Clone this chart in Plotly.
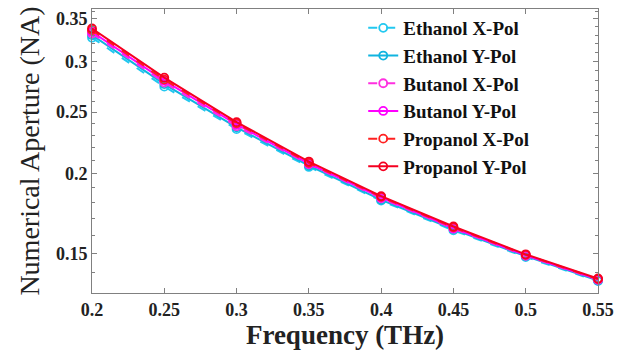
import plotly.graph_objects as go
import math

freq = [0.2, 0.25, 0.3, 0.35, 0.4, 0.45, 0.5, 0.55]
x_ticks = [0.2, 0.25, 0.3, 0.35, 0.4, 0.45, 0.5, 0.55]
x_ticklabels = ["0.2", "0.25", "0.3", "0.35", "0.4", "0.45", "0.5", "0.55"]
y_ticks = [0.15, 0.2, 0.25, 0.3, 0.35]
y_ticklabels = ["0.15", "0.2", "0.25", "0.3", "0.35"]
y_minor = [0.13, 0.14, 0.16, 0.17, 0.18, 0.19, 0.21, 0.22, 0.23, 0.24,
           0.26, 0.27, 0.28, 0.29, 0.31, 0.32, 0.33, 0.34, 0.36]

ethanol_x = [0.327, 0.274, 0.235, 0.2050, 0.1815, 0.1630, 0.1480, 0.1357]
ethanol_y = [0.330, 0.2765, 0.2365, 0.2060, 0.1820, 0.1637, 0.1485, 0.1360]
butanol_x = [0.332, 0.278, 0.2375, 0.2070, 0.1830, 0.1640, 0.1487, 0.1363]
butanol_y = [0.334, 0.280, 0.2390, 0.2075, 0.1835, 0.1643, 0.1490, 0.1365]
propanol_x = [0.336, 0.281, 0.2400, 0.2080, 0.1840, 0.1648, 0.1492, 0.1367]
propanol_y = [0.338, 0.283, 0.2410, 0.2090, 0.1845, 0.1653, 0.1495, 0.1370]

series = [
    ("Ethanol X-Pol", ethanol_x, "#22c8f0", "dash"),
    ("Ethanol Y-Pol", ethanol_y, "#10b4e0", "solid"),
    ("Butanol X-Pol", butanol_x, "#ff30e0", "dash"),
    ("Butanol Y-Pol", butanol_y, "#ff00ff", "solid"),
    ("Propanol X-Pol", propanol_x, "#ff2020", "dash"),
    ("Propanol Y-Pol", propanol_y, "#f50020", "solid"),
]

fig = go.Figure()
for name, vals, color, dash in series:
    fig.add_trace(go.Scatter(
        x=freq, y=vals, name=name, mode="lines+markers",
        line=dict(color=color, width=2, dash=dash),
        marker=dict(symbol="circle-open", size=8, color=color, line=dict(width=1.8, color=color)),
        cliponaxis=False,
    ))

font_family = "Liberation Serif"

fig.update_layout(
    width=629, height=350,
    margin=dict(l=92, r=31, t=8, b=54),
    paper_bgcolor="white", plot_bgcolor="white",
    font=dict(family=font_family, color="#111"),
    showlegend=True,
    legend=dict(
        x=0.536, y=1.0, xanchor="left", yanchor="top",
        bgcolor="rgba(0,0,0,0)", borderwidth=0,
        font=dict(family=font_family, size=19, color="#111", weight="bold"),
        tracegroupgap=0, itemwidth=30, maxheight=1,
    ),
    xaxis=dict(
        range=[0.2, 0.55], tickvals=x_ticks, ticktext=x_ticklabels,
        showline=True, linecolor="#808080", linewidth=1, mirror="ticks",
        ticks="inside", ticklen=5, tickcolor="#808080",
        showgrid=False, zeroline=False,
        tickfont=dict(family=font_family, size=18, color="#222", weight="bold"),
        title=dict(text="Frequency (THz)", standoff=4,
                   font=dict(family=font_family, size=27, color="#222", weight="bold")),
    ),
    yaxis=dict(
        type="log", range=[math.log10(0.130), math.log10(0.3627)],
        tickvals=y_ticks, ticktext=y_ticklabels,
        showline=True, linecolor="#808080", linewidth=1, mirror="ticks",
        ticks="inside", ticklen=5, tickcolor="#808080",
        minor=dict(tickvals=y_minor, ticks="inside", ticklen=3, tickcolor="#808080", showgrid=False),
        showgrid=False, zeroline=False,
        tickfont=dict(family=font_family, size=18, color="#222", weight="bold"),
        title=dict(text="Numerical Aperture (NA)", standoff=8,
                   font=dict(family=font_family, size=28, color="#222")),
    ),
)

fig.write_html("out.html")
